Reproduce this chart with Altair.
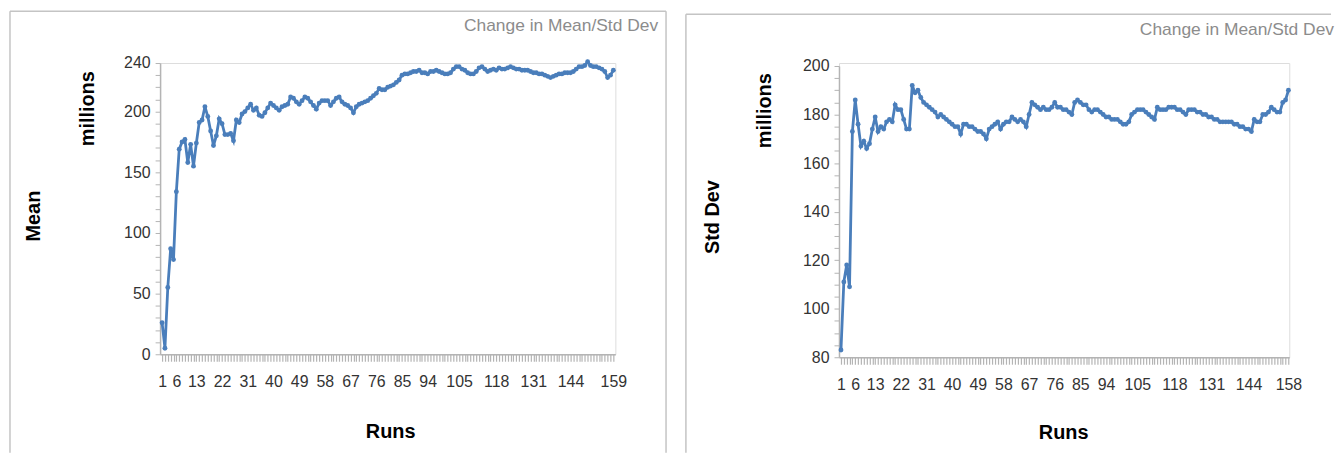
import altair as alt
import pandas as pd

# ---------------- data ----------------
mean_values = [
    26, 5, 55, 87, 78, 134, 169, 175, 177, 158,
    173, 155, 174, 191, 193, 204, 196, 184, 172, 180,
    194, 190, 181, 181, 182, 176, 193, 191, 198, 200,
    203, 206, 201, 203, 197, 196, 199, 203, 207, 205,
    203, 201, 204, 205, 206, 212, 211, 208, 206, 209,
    212, 211, 208, 205, 202, 207, 209, 209, 209, 205,
    208, 211, 212, 208, 206, 205, 203, 199, 204, 206,
    207, 208, 209, 211, 213, 215, 219, 218, 218, 220,
    221, 222, 224, 226, 230, 231, 231, 232, 233, 233,
    234, 232, 232, 231, 233, 233, 234, 233, 232, 231,
    231, 232, 235, 237, 237, 235, 234, 232, 231, 231,
    233, 236, 237, 235, 233, 234, 235, 234, 236, 235,
    235, 236, 237, 236, 235, 235, 234, 234, 234, 233,
    232, 232, 231, 231, 230, 229, 228, 229, 230, 231,
    231, 232, 232, 232, 233, 235, 237, 237, 238, 241,
    238, 237, 237, 236, 235, 233, 228, 230, 234,
]
std_values = [
    83, 111, 118, 109, 173, 186, 176, 167, 169, 166,
    168, 174, 179, 173, 175, 174, 177, 178, 177, 184,
    182, 182, 178, 174, 174, 192, 189, 190, 187, 185,
    184, 183, 182, 181, 179, 180, 179, 178, 177, 176,
    175, 175, 172, 176, 176, 175, 175, 174, 173, 173,
    172, 170, 174, 175, 176, 177, 174, 176, 177, 177,
    179, 178, 177, 178, 177, 175, 180, 185, 184, 183,
    182, 183, 182, 182, 183, 185, 183, 183, 182, 182,
    181, 180, 185, 186, 185, 184, 184, 182, 181, 182,
    182, 181, 180, 179, 179, 178, 178, 178, 177, 176,
    176, 177, 180, 181, 182, 182, 182, 181, 180, 179,
    178, 183, 182, 182, 182, 183, 183, 183, 182, 182,
    181, 180, 182, 182, 182, 181, 181, 180, 180, 179,
    179, 178, 178, 177, 177, 177, 177, 177, 176, 176,
    175, 175, 174, 174, 173, 178, 177, 177, 180, 180,
    181, 183, 182, 181, 181, 185, 186, 190,
]
mean_runs = list(range(1, len(mean_values) + 1))
std_runs = list(range(1, len(std_values) + 1))

mean_x_labels = [1, 6, 13, 22, 31, 40, 49, 58, 67, 76, 85, 94, 105, 118, 131, 144, 159]
std_x_labels = [1, 6, 13, 22, 31, 40, 49, 58, 67, 76, 85, 94, 105, 118, 131, 144, 158]
mean_y_labels = [0, 50, 100, 150, 200, 240]
std_y_labels = [80, 100, 120, 140, 160, 180, 200]

chart_title = "Change in Mean/Std Dev"
x_title = "Runs"
unit_title = "millions"
mean_title = "Mean"
std_title = "Std Dev"

# ---------------- styling ----------------
FONT = "Liberation Sans"
BLUE = "#4A7EBB"
GREY = "#b4b4b4"
FRAME = "#c4c4c4"


def label_expr(vals):
    return "indexof([" + ",".join(str(v) for v in vals) + "], datum.value) >= 0 ? datum.label : ''"


def one(text):
    return alt.Chart(pd.DataFrame({"t": [text]}))


def panel(runs, values, y_title, x_labels, y_labels, y_ticks, x_domain, y_domain,
          width, height, y_range, g):
    df = pd.DataFrame({"run": runs, "value": values})
    x = alt.X(
        "run:Q",
        scale=alt.Scale(domain=x_domain, nice=False, zero=False),
        axis=alt.Axis(
            values=runs, labelExpr=label_expr(x_labels), title=None, grid=False,
            tickSize=7, tickColor=GREY, tickWidth=1.2, domainColor=GREY, domainWidth=1.5,
            labelOverlap=False, labelFlush=False, labelBound=False, labelPadding=12,
            labelFontSize=16, labelColor="#333333", labelFont=FONT,
        ),
    )
    y = alt.Y(
        "value:Q",
        scale=alt.Scale(domain=y_domain, nice=False, zero=False, range=y_range),
        axis=alt.Axis(
            values=y_ticks, labelExpr=label_expr(y_labels), title=None, grid=False,
            tickSize=5, tickColor=GREY, domainColor=GREY, domainWidth=1.5,
            labelOverlap=False, labelPadding=5, labelFontSize=16,
            labelColor="#333333", labelFont=FONT,
        ),
    )
    line = alt.Chart(df).mark_line(
        color=BLUE, strokeWidth=2.8,
        point=alt.OverlayMarkDef(color=BLUE, filled=True, size=24, shape="circle"),
    ).encode(x=x, y=y)

    frame_top = one("").mark_rule(color=FRAME, strokeWidth=1.5).encode(
        x=alt.value(g["fl"]), x2=alt.value(g["fr"]), y=alt.value(g["ft"]))
    frame_left = one("").mark_rule(color=FRAME, strokeWidth=1.5).encode(
        x=alt.value(g["fl"]), y=alt.value(g["ft"]), y2=alt.value(g["fb"]))
    layers = [frame_top, frame_left]
    if g.get("right_edge", False):
        frame_right = one("").mark_rule(color=FRAME, strokeWidth=1.5).encode(
            x=alt.value(g["fr"]), y=alt.value(g["ft"]), y2=alt.value(g["fb"]))
        layers.append(frame_right)

    title = one(chart_title).mark_text(
        align="right", baseline="middle", fontSize=17.5, color="#8c8c8c", font=FONT
    ).encode(text="t:N", x=alt.value(g["tx"]), y=alt.value(g["ty"]))
    ytitle = one(y_title).mark_text(
        angle=270, align="center", baseline="middle", fontSize=20, fontWeight="bold",
        color="#000000", font=FONT
    ).encode(text="t:N", x=alt.value(g["yx"]), y=alt.value(g["yy"]))
    unit = one(unit_title).mark_text(
        angle=270, align="center", baseline="middle", fontSize=20, fontWeight="bold",
        color="#000000", font=FONT
    ).encode(text="t:N", x=alt.value(g["ux"]), y=alt.value(g["uy"]))
    xtitle = one(x_title).mark_text(
        align="center", baseline="middle", fontSize=20, fontWeight="bold",
        color="#000000", font=FONT
    ).encode(text="t:N", x=alt.value(g["xx"]), y=alt.value(g["xy"]))

    layers += [line, title, ytitle, unit, xtitle]
    return alt.layer(*layers).properties(width=width, height=height)


left = panel(
    mean_runs, mean_values, mean_title, mean_x_labels, mean_y_labels,
    list(range(0, 241, 10)), [0.3, 159.7], [0, 240], 458, 293, [293, 0],
    dict(ft=-52, fl=-151, fr=509, fb=392, right_edge=True,
         tx=501, ty=-37, yx=-127, yy=154, ux=-72, uy=46, xx=232, xy=371),
)
right = panel(
    std_runs, std_values, std_title, std_x_labels, std_y_labels,
    list(range(80, 201, 5)), [0.3, 158.3], [80, 200], 453, 296, [296, 3],
    dict(ft=-49, fl=-154, fr=495, fb=392, right_edge=False,
         tx=498, ty=-33, yx=-127, yy=155, ux=-74, uy=48, xx=226, xy=372),
)

chart = alt.hconcat(left, right, spacing=16).properties(
    padding={"left": 0, "top": 0, "right": 0, "bottom": 0}
).configure_view(stroke=None).configure(background="white")

chart.save("out.html", embed_options={"renderer": "svg", "actions": False})
